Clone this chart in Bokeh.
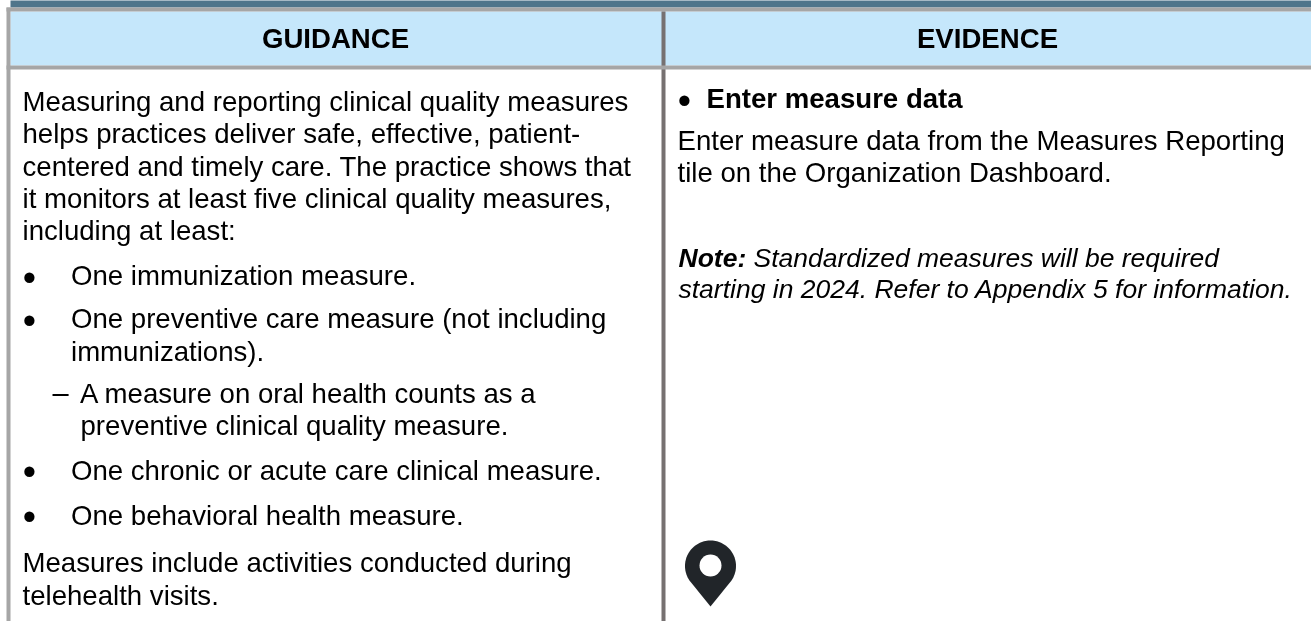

import numpy as np
from bokeh.plotting import figure
from bokeh.models import Range1d
from bokeh.core.properties import value
from bokeh.embed import file_html
from bokeh.resources import INLINE

W, H = 1311, 621
FONT = "Liberation Sans"
headers = ["GUIDANCE", "EVIDENCE"]
guidance_lines = ["Measuring and reporting clinical quality measures",
    "helps practices deliver safe, effective, patient-",
    "centered and timely care. The practice shows that",
    "it monitors at least five clinical quality measures,",
    "including at least:"]
bullets = ["One immunization measure.", "One preventive care measure (not including",
    "One chronic or acute care clinical measure.", "One behavioral health measure."]
wrapped_bullet = "immunizations)."
sub_lines = ["A measure on oral health counts as a", "preventive clinical quality measure."]
closing_lines = ["Measures include activities conducted during", "telehealth visits."]
evidence_title = "Enter measure data"
evidence_lines = ["Enter measure data from the Measures Reporting", "tile on the Organization Dashboard."]
note_label = "Note:"
note_lines = ["Standardized measures will be required", "starting in 2024. Refer to Appendix 5 for information."]

p = figure(width=W, height=H, x_range=Range1d(0, W), y_range=Range1d(H, 0),
           toolbar_location=None, output_backend="svg", min_border=0,
           x_axis_location=None, y_axis_location=None, outline_line_color=None,
           background_fill_color="white", border_fill_color="white")
p.grid.visible = False
p.styles = {"position": "fixed", "left": "0px", "top": "0px"}

p.quad(left=[10], right=[W], top=[-2], bottom=[7], fill_color="#4f758b", line_color=None)
p.quad(left=[10], right=[W], top=[11], bottom=[65], fill_color="#c5e7fb", line_color=None)
p.quad(left=[6, 6], right=[W, 10], top=[7, 7], bottom=[11, H], fill_color="#a6a6a6", line_color=None)
p.quad(left=[661], right=[665], top=[11], bottom=[H], fill_color="#767171", line_color=None)
p.quad(left=[6], right=[W], top=[65], bottom=[69], fill_color="#a6a6a6", line_color=None)

FS = 27.6
def txt(x, y, s, size=FS, style="normal", align="left", color="black"):
    y = y - 0.35 * size  # the svg text sits this far below its anchor
    p.text(x=[x], y=[y], text=[s], text_font=value(FONT), text_font_size=value(f"{size}px"),
           text_font_style=value(style), text_align=align, text_baseline="alphabetic", text_color=color)

def bullet(xc, yc, size=38):
    txt(xc - 0.175 * size, yc + 0.35 * size, "•", size=size)

txt(335, 48, headers[0], style="bold", align="center")
txt(987, 48, headers[1], style="bold", align="center")

for y, s in zip([110.7, 143, 175.3, 207.6, 240], guidance_lines):
    txt(22, y, s)
for y, s in zip([285, 328, 479.3, 524.3], bullets):
    bullet(29, y - 8)
    txt(70.5, y, s)
txt(70.5, 360.3, wrapped_bullet)
txt(52, 403, "–", size=29)
txt(79.5, 402.7, sub_lines[0]); txt(80, 434.5, sub_lines[1])
txt(22, 572, closing_lines[0]); txt(22, 604.3, closing_lines[1])

bullet(684, 100)
txt(706, 107.7, evidence_title, style="bold")
txt(677, 149.3, evidence_lines[0]); txt(677, 182, evidence_lines[1])
txt(678, 266.7, note_label, size=26.5, style="bold italic")
txt(753, 266.7, note_lines[0], size=26.5, style="italic")
txt(678, 297.7, note_lines[1], size=26.5, style="italic")

# pin icon
cx, cy, r, tip = 710, 565.5, 25.5, 606
a = np.arccos(r / (tip - cy))
phi = np.linspace(a, 2 * np.pi - a, 80)
xs = np.r_[cx + r * np.sin(phi), cx]
yy = np.r_[cy + r * np.cos(phi), tip]
p.patch(xs, yy, fill_color="#212529", line_color=None)
p.circle(x=[cx], y=[565], radius=11, fill_color="white", line_color=None)

open("out.html", "w").write(file_html(p, INLINE))
